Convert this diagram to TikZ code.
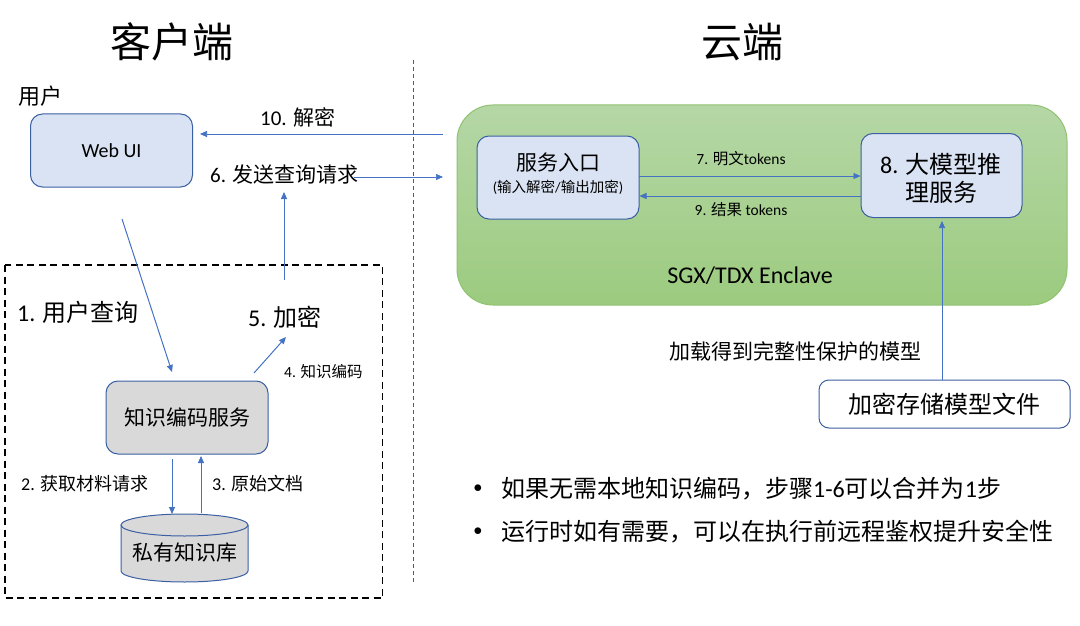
\documentclass[tikz,border=0pt]{standalone}
\usepackage{fontspec}
\setmainfont{Carlito}
\newfontfamily\cjk{Noto Sans CJK SC}
\usetikzlibrary{arrows.meta,shapes.geometric}
\definecolor{arr}{HTML}{4472C4}
\definecolor{bord}{HTML}{3B5FA3}
\definecolor{bluefill}{HTML}{DAE3F3}
\definecolor{grayfill}{HTML}{D9D9D9}
\definecolor{gtop}{HTML}{B5D7A6}
\definecolor{gbot}{HTML}{9CCB7F}
\definecolor{gbord}{HTML}{8FC271}
\newcommand{\fs}[1]{\fontsize{#1}{#1}\selectfont}
\tikzset{
  conn/.style={draw=arr, line width=1pt, -{Triangle[length=7pt,width=6pt]}},
  thin conn/.style={draw=arr, line width=0.7pt, -{Triangle[length=7pt,width=6pt]}},
  bluebox/.style={draw=bord, line width=1pt, fill=bluefill, rounded corners=12pt, align=center},
  graybox/.style={draw=bord, line width=1pt, fill=grayfill, rounded corners=12pt, align=center},
  lbl/.style={inner sep=0pt, anchor=center},
}
\begin{document}
\begin{tikzpicture}[x=1pt,y=-1pt]
\useasboundingbox (0,0) rectangle (1080,626);
% titles
\node[lbl] (tc) at (172,42) {\cjk\fs{41}客户端};
\node[lbl] (ts) at (742,42) {\cjk\fs{41}云端};
% vertical divider
\coordinate (dv1) at (413,60);
\coordinate (dv2) at (413,582);
\draw[draw=black!65, line width=0.7pt, dash pattern=on 4pt off 3pt] (dv1) -- (dv2);
% user
\node[lbl] (user) at (41,96) {\cjk\fs{22}用户};
\node[bluebox, minimum width=162pt, minimum height=73pt] (web) at (111.5,150.5) {\fs{20}Web UI};
% dashed client box
\draw[line width=1.6pt, dash pattern=on 7pt off 4.5pt] (5,265) rectangle (382.5,598);
% knowledge encoding service
\node[graybox, minimum width=162pt, minimum height=73pt] (kes) at (187,417.5) {\cjk\fs{21}知识编码服务};
% cylinder drawn directly
\fill[grayfill] (121,525) -- (121,571) arc[start angle=180, end angle=0, x radius=63.5, y radius=11] -- (248,525) -- cycle;
\fill[grayfill] (184.5,525) ellipse [x radius=63.5, y radius=11];
\draw[draw=bord, line width=1pt] (121,525) -- (121,571) arc[start angle=180, end angle=0, x radius=63.5, y radius=11] -- (248,525);
\draw[draw=bord, line width=1pt] (184.5,525) ellipse [x radius=63.5, y radius=11];
\node[lbl] (db) at (185,553) {\cjk\fs{21}私有知识库};
% labels left
\node[lbl, anchor=west] (l1) at (17,312) {\fs{24}1. {\cjk 用户查询}};
\node[lbl, anchor=west] (l5) at (248,317) {\fs{24}5. {\cjk 加密}};
\node[lbl, anchor=west] (l4) at (284,372) {\fs{15.5}4. {\cjk 知识编码}};
\node[lbl, anchor=west] (l2) at (21,484) {\fs{18}2. {\cjk 获取材料请求}};
\node[lbl, anchor=west] (l3) at (212,484) {\fs{18}3. {\cjk 原始文档}};
\node[lbl, anchor=west] (l6) at (210,175) {\fs{21}6. {\cjk 发送查询请求}};
\node[lbl, anchor=west] (l10) at (260,117) {\fs{21}10. {\cjk 解密}};
% connectors left
\coordinate (q0) at (122,219);
\coordinate (q1) at (172,372);
\draw[conn] (q0) -- (q1);
\coordinate (e0) at (254,373);
\coordinate (e1) at (286,337);
\draw[conn] (e0) -- (e1);
\coordinate (s0) at (284,280);
\coordinate (s1) at (284,192);
\draw[conn] (s0) -- (s1);
\coordinate (r0) at (172,459);
\coordinate (r1) at (172,514);
\draw[conn] (r0) -- (r1);
\coordinate (d0) at (201,513);
\coordinate (d1) at (201,456);
\draw[conn] (d0) -- (d1);
% green enclave
\node[draw=gbord, line width=1pt, top color=gtop, bottom color=gbot, rounded corners=36pt,
      minimum width=610pt, minimum height=200pt, inner sep=0pt] (enc) at (762,205) {};
\node[lbl] (sgx) at (750,276) {\fs{24}SGX/TDX Enclave};
% send/decrypt arrows
\coordinate (a10s) at (443,134);
\coordinate (a10e) at (200,134);
\draw[thin conn] (a10s) -- (a10e);
\coordinate (a6s) at (354,177);
\coordinate (a6e) at (443,177);
\draw[thin conn] (a6s) -- (a6e);
% entrance box
\node[bluebox, minimum width=162pt, minimum height=83pt, inner sep=0pt] (entry) at (558,177.5) {};
\node[lbl] (entryt) at (558,163) {\cjk\fs{21}服务入口};
\node[lbl] (entrys) at (558,187) {\fs{14.5}({\cjk 输入解密}/{\cjk 输出加密})};
% LLM box
\node[bluebox, minimum width=161pt, minimum height=84pt, inner sep=0pt] (llm) at (941.5,175.5) {};
\node[lbl, anchor=west] (llm1) at (880,164) {\fs{24}8. {\cjk 大模型推}};
\node[lbl, anchor=west] (llm2) at (905,192) {\cjk\fs{24}理服务};
% token arrows
\coordinate (t7) at (639,176);
\draw[thin conn] (t7) -- (llm.west |- t7);
\coordinate (t9) at (861,196);
\draw[thin conn] (t9) -- (entry.east |- t9);
\node[lbl] (l7) at (741,159) {\fs{15.5}7. {\cjk 明文}tokens};
\node[lbl] (l9) at (741,210) {\fs{15.5}9. {\cjk 结果} tokens};
% model file
\node[draw=bord, line width=1pt, fill=white, rounded corners=10pt,
      minimum width=251pt, minimum height=48pt] (mf) at (944.5,404) {\cjk\fs{24}加密存储模型文件};
\node[lbl] (load) at (795,351) {\cjk\fs{21}加载得到完整性保护的模型};
\coordinate (m0) at (942,380);
\coordinate (m1) at (942,221);
\draw[thin conn, line width=0.6pt] (m0) -- (m1);
% bullets
\node[lbl] (b1d) at (478,489) {\fs{18}$\bullet$};
\node[lbl, anchor=west] (b1) at (501,489) {\fs{24}{\cjk 如果无需本地知识编码，步骤}1-6{\cjk 可以合并为}1{\cjk 步}};
\node[lbl] (b2d) at (478,532) {\fs{18}$\bullet$};
\node[lbl, anchor=west] (b2) at (501,532) {\cjk\fs{24}运行时如有需要，可以在执行前远程鉴权提升安全性};
\end{tikzpicture}
\end{document}
